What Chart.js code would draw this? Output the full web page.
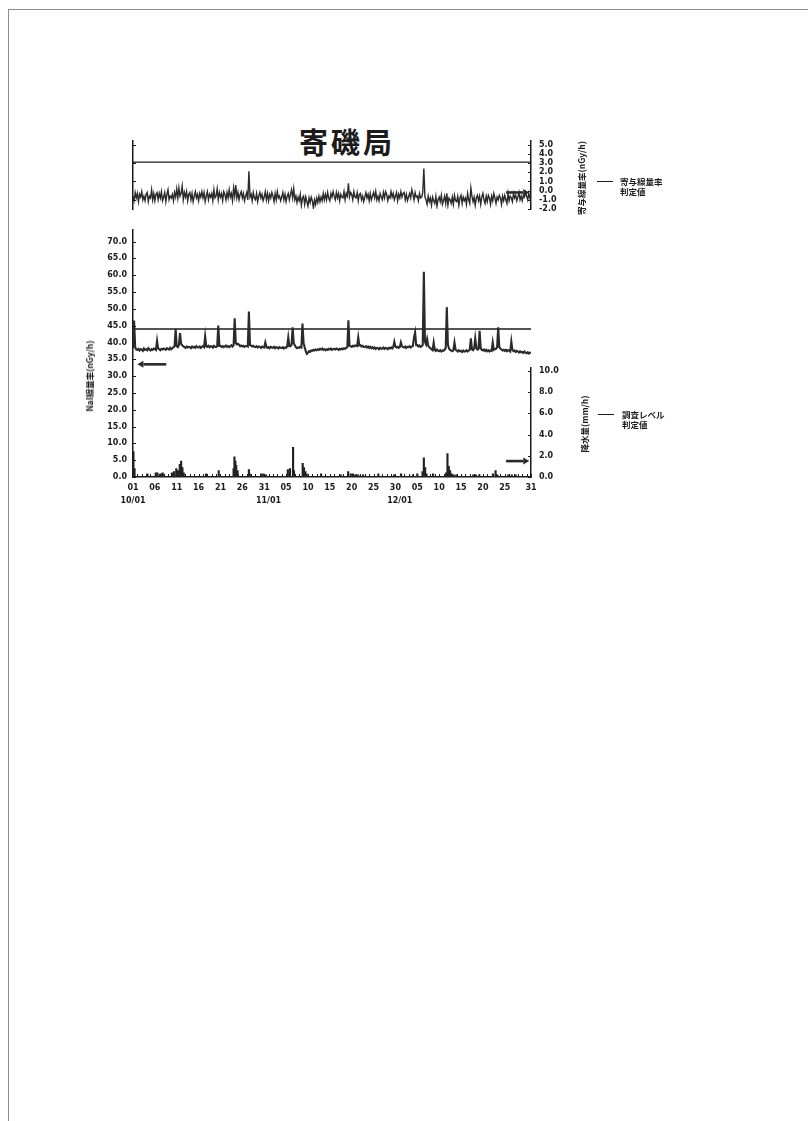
<!DOCTYPE html>
<html lang="ja">
<head>
<meta charset="utf-8">
<title>寄磯局</title>
<script src="https://cdn.jsdelivr.net/npm/chart.js@4.4.1/dist/chart.umd.min.js"></script>
<style>
  html, body { margin:0; padding:0; background:#fff; }
  #page { position:relative; width:808px; height:1121px; overflow:hidden; background:#fff; }
  #frame { position:absolute; left:8px; top:9px; right:-4px; bottom:-4px; border-left:1px solid #8c8c8c; border-top:1px solid #8c8c8c; }
  canvas { position:absolute; left:0; }
  .txt { position:absolute; color:#1b1b1b; font-family:"Noto Sans CJK JP","DejaVu Sans",sans-serif; font-weight:700; white-space:nowrap; }
  .station { left:247px; width:200px; top:126px; text-align:center; font-size:29px; line-height:31px; letter-spacing:3px; }
  .vtitle { font-size:8.5px; line-height:10px; transform:translate(-50%,-50%) rotate(-90deg); }
  .legline { position:absolute; height:0; width:16px; border-top:1.4px solid #1b1b1b; }
  .legtxt { font-size:8.5px; line-height:10px; }
</style>
</head>
<body>
<div id="page">
  <div id="frame"></div>
  <div class="txt station">寄磯局</div>

  <canvas id="contribChart" width="808" height="95" style="top:128px"></canvas>
  <canvas id="naiChart" width="808" height="300" style="top:219px"></canvas>
  <canvas id="rainChart" width="808" height="140" style="top:355px"></canvas>

  <div class="txt vtitle" style="left:581px; top:178px;">寄与線量率(nGy/h)</div>
  <div class="txt vtitle" style="left:89px; top:376px;">NaI線量率(nGy/h)</div>
  <div class="txt vtitle" style="left:584px; top:424px;">降水量(mm/h)</div>

  <div class="legline" style="left:597px; top:181px;"></div>
  <div class="txt legtxt" style="left:620px; top:176px;">寄与線量率<br>判定値</div>
  <div class="legline" style="left:598px; top:414px;"></div>
  <div class="txt legtxt" style="left:622px; top:409px;">調査レベル<br>判定値</div>
</div>

<script>
// ---- time axis: day 0 = 10/01, day 91 = 12/31 ----
const dayTickPos  = [0, 5, 10, 15, 20, 25, 30, 35, 40, 45, 50, 55, 60, 65, 70, 75, 80, 85, 91];
const dayTickText = ['01','06','11','16','21','26','31','05','10','15','20','25','30','05','10','15','20','25','31'];
const monthTickPos  = [0, 31, 61];
const monthTickText = ['10/01', '11/01', '12/01'];
const slotsPerDay = 4;   // 6-hour values

// ---- axis ticks ----
const contribTicks = [5, 4, 3, 2, 1, 0, -1, -2];
const contribLeftTicks = [5, 3, 1, -1];
const naiTicks = [0, 5, 10, 15, 20, 25, 30, 35, 40, 45, 50, 55, 60, 65, 70];
const rainTicks = [0, 2, 4, 6, 8, 10];

// ---- reference levels ----
const contribLimit = 3.1;       // 寄与線量率 判定値 (nGy/h)
const naiInvestigation = 44.0;  // 調査レベル (nGy/h)

// ---- 寄与線量率 (nGy/h), 6-hour values from 10/01 ----
const contribRate = [
  -0.6,-1.1,-0.2,-0.8, -0.3,-1.2,-0.4,-0.7, -0.1,-1.0,-0.6,-1.1, -0.4,-0.2,-1.2,-0.6,
  -0.8,0.1,-1.0,-0.3, -1.1,-0.4,-0.2,-1.0, -0.3,-0.8,-0.1,-1.1, -0.7,-0.2,-1.2,-0.4,
  0.1,-1.0,-0.6,-0.8, -0.4,-1.1,-0.2,-0.7, 0.2,-0.8,0.3,-0.6, -0.3,0.5,-1.0,-0.2,
  -0.7,-0.1,-1.1,-0.4, -0.2,-1.0,-0.3,-1.2, -0.6,-0.1,-0.8,-0.4, -1.1,-0.3,-0.7,-0.1,
  -0.8,-0.2,-1.2,-0.6, -0.1,-1.0,-0.4,-0.7, -0.3,-1.1,0.1,-0.8, -0.6,0.2,-1.0,-0.2,
  -0.7,-0.3,-1.1,-0.1, -0.4,-1.0,-0.2,-0.8, 0.1,-0.7,-0.3,-1.1, 0.3,-0.6,0.6,-0.8,
  -0.2,-1.0,-0.4,-0.1, -0.8,-0.3,-1.1,-0.6, -0.2,-1.0,2.1,-0.7, -0.4,-1.1,-0.2,-0.8,
  -1.0,-0.3,-1.2,-0.6, -0.2,-0.8,-0.4,-1.1, -0.7,-0.1,-1.0,-0.3, -1.1,-0.4,-0.8,-0.2,
  -0.6,-1.2,-0.3,-1.0, -0.1,-0.8,-0.6,-1.1, -0.7,-0.2,-1.0,-0.4, -1.2,-0.6,-0.3,-1.0,
  -0.4,0.1,-0.8,0.2, -1.0,-0.6,-1.3,-0.7, -1.1,-0.4,-1.6,-0.8, -0.6,-1.5,-0.7,-1.2,
  -1.7,-0.8,-1.3,-0.7, -1.1,-1.9,-1.0,-1.5, -0.8,-1.3,-0.6,-1.2, -0.7,-1.1,-0.3,-1.0,
  -0.4,-1.0,-0.2,-0.8, -1.1,-0.3,-0.7,-0.1, -0.6,-1.0,-0.2,-0.8, -0.3,-1.1,-0.4,-0.7,
  -0.8,-0.1,-1.0,-0.3, -0.6,0.8,-0.7,-0.2, -0.4,-1.0,-0.1,-0.7, -0.8,-0.2,-1.1,-0.4,
  -0.3,-1.0,-0.6,-1.2, -0.7,-0.2,-0.8,-0.4, -1.1,-0.3,-1.0,-0.6, -0.2,-0.8,-0.1,-1.0,
  -0.6,-1.1,-0.3,-0.7, -1.0,-0.2,-0.8,-0.1, -0.4,-1.1,-0.6,-0.8, -0.1,-0.7,-0.3,-1.0,
  -0.6,-0.2,-1.1,-0.4, -0.8,-0.1,-0.7,-0.3, -0.2,-1.0,-0.4,-1.1, -0.7,-0.3,-0.8,0.1,
  -0.4,-1.0,-0.2,-0.7, -0.6,-1.1,-0.3,-0.8, -0.7,-0.2,2.4,-0.7, -1.0,-1.5,-0.6,-1.2,
  -0.8,-1.6,-0.7,-1.1, -1.4,-0.6,-1.7,-1.0, -0.7,-1.2,-0.5,-1.5, -1.1,-0.6,-1.4,-0.3,
  -1.6,-0.8,-1.0,-1.4, -0.7,-1.5,-0.5,-1.1, -1.2,-0.6,-1.6,-0.8, -0.5,-1.4,-0.7,-1.1,
  -0.8,-1.5,-0.3,-1.0, -1.4,0.3,-0.6,-1.2, -0.7,-1.6,-0.8,-0.5, -1.1,-0.6,-1.5,-0.7,
  -0.3,-1.0,-1.4,-0.6, -1.2,-0.5,-0.8,-1.5, -0.6,-1.1,-0.3,-0.8, -1.4,-0.7,-1.0,-0.5,
  -0.8,-1.5,-0.6,-1.1, -0.5,-1.0,-1.4,-0.3, -1.1,-0.6,-0.8,-1.2, -0.3,-0.8,-0.5,-1.1,
  -0.7,-0.2,-1.0,-0.6, -1.1,-0.5,-0.7,-0.2, -0.6,-1.0,-0.3,-0.8, -0.5,-0.7,-0.2,-0.6
];

// ---- NaI線量率 (nGy/h), 6-hour values from 10/01 ----
const naiRate = [
  38.2,46.5,38.6,37.9, 37.8,38.1,37.6,38.0, 37.9,37.5,38.2,37.8, 38.0,37.7,38.3,37.9,
  37.6,38.0,37.8,38.2, 38.1,37.8,40.5,38.2, 38.0,37.7,38.1,37.9, 38.2,38.0,37.8,38.3,
  38.1,37.9,38.4,38.0, 38.3,38.6,38.9,44.0, 38.9,38.6,39.2,42.8, 39.6,39.2,38.9,38.6,
  38.4,38.8,38.5,38.7, 38.6,38.3,38.8,38.5, 38.7,38.4,38.9,38.6, 38.5,38.8,38.4,38.7,
  38.9,38.6,41.8,38.8, 38.7,39.0,38.6,38.9, 38.8,38.5,39.0,38.7, 38.6,38.9,45.0,39.0,
  39.0,38.7,38.9,38.6, 38.8,39.1,38.7,38.9, 38.6,38.9,39.2,38.8, 39.2,47.2,39.8,39.4,
  39.6,39.3,38.9,39.1, 38.8,39.0,38.7,38.9, 39.0,38.8,49.2,39.2, 39.1,38.8,39.0,38.7,
  38.6,38.9,38.5,38.8, 38.7,38.4,38.8,38.6, 38.5,40.0,38.7,38.4, 38.6,38.3,38.7,38.5,
  38.4,38.7,38.3,38.6, 38.5,38.2,38.6,38.4, 38.3,38.6,38.2,38.5, 38.4,38.8,41.5,38.9,
  38.9,39.3,44.5,39.8, 39.2,38.6,38.3,38.5, 38.4,38.7,38.5,45.6, 39.8,38.6,37.4,36.6,
  36.9,37.4,37.2,37.6, 37.5,37.8,37.6,37.9, 37.7,38.0,37.8,38.1, 37.9,38.2,37.8,38.0,
  37.7,38.0,37.8,38.1, 37.9,38.2,37.8,38.0, 38.1,37.9,38.2,38.0, 37.8,38.1,37.9,38.2,
  38.0,38.3,38.1,38.4, 38.6,46.6,39.0,38.9, 38.7,39.0,38.8,39.1, 39.0,38.9,41.5,39.1,
  39.2,38.8,39.0,38.7, 38.6,38.9,38.5,38.8, 38.4,38.7,38.3,38.6, 38.2,38.5,38.1,38.4,
  38.3,38.0,38.4,38.1, 38.2,38.5,38.1,38.4, 38.3,38.0,38.4,38.2, 38.5,38.2,38.6,40.2,
  38.8,38.5,38.7,38.4, 38.6,40.0,38.9,38.6, 38.5,38.8,38.4,38.7, 38.6,38.9,38.5,38.8,
  39.0,41.5,43.0,39.2, 39.2,38.8,39.1,38.7, 38.9,39.3,61.0,40.2, 39.4,41.0,39.0,38.6,
  38.3,38.0,37.7,40.0, 37.8,37.5,37.9,37.6, 37.4,37.7,37.3,37.6, 37.5,37.8,38.4,50.5,
  39.4,38.2,37.8,37.6, 37.4,37.7,40.0,37.9, 37.6,37.3,37.7,37.4, 37.5,37.2,37.6,37.3,
  37.4,37.7,37.3,37.6, 37.8,41.2,38.0,37.7, 38.2,41.2,38.4,37.9, 38.1,43.5,38.3,37.8,
  37.6,37.9,37.5,37.8, 37.4,37.7,37.3,37.6, 37.5,40.0,37.8,38.0, 38.1,38.6,44.5,38.6,
  38.2,37.9,37.6,37.8, 37.5,37.8,37.4,37.7, 37.6,37.3,40.3,37.8, 37.4,37.6,37.2,37.5,
  37.3,37.0,37.4,37.1, 37.2,36.9,37.3,37.0, 36.8,37.1,36.7,37.0, 36.9,36.7,36.8,36.6
];

// ---- 降水量 (mm/h): time in days from 10/01, amount ----
const rainDay = [
  0.1, 0.35, 3.3, 5.2, 5.6, 6.4, 6.8, 8.9, 9.4, 9.9,
  10.3, 10.7, 11.0, 11.3, 11.6, 16.7, 19.6, 23.0, 23.2, 23.4,
  23.6, 23.9, 26.5, 26.7, 29.3, 29.8, 30.4, 35.4, 35.9, 36.6,
  36.8, 38.8, 39.1, 39.4, 39.7, 43.0, 47.5, 49.2, 49.8, 50.3,
  50.8, 51.5, 52.6, 56.1, 59.7, 61.3, 64.0, 65.0, 66.2, 66.5,
  66.8, 67.1, 68.6, 71.6, 71.9, 72.2, 72.5, 72.8, 73.3, 73.9,
  77.8, 78.4, 79.2, 82.3, 82.9, 83.3, 85.8, 86.6, 87.5
];
const rainMm = [
  2.4, 0.8, 0.3, 0.4, 0.4, 0.3, 0.4, 0.4, 0.5, 0.8,
  0.6, 1.2, 1.5, 0.9, 0.4, 0.3, 0.6, 0.8, 1.9, 1.5,
  1.1, 0.6, 0.7, 0.3, 0.3, 0.3, 0.2, 0.7, 0.8, 2.8,
  0.6, 1.3, 0.9, 0.5, 0.3, 0.3, 0.2, 0.5, 0.3, 0.3,
  0.2, 0.2, 0.2, 0.3, 0.2, 0.3, 0.2, 0.3, 0.5, 1.8,
  0.9, 0.3, 0.3, 0.4, 2.2, 1.0, 0.6, 0.3, 0.2, 0.2,
  0.2, 0.2, 0.2, 0.3, 0.6, 0.2, 0.2, 0.2, 0.2
];

// ---------------------------------------------------------------
const INK = '#1b1b1b';
const tickFont = { family: "'DejaVu Sans', sans-serif", size: 8, weight: 'bold' };
const xMin = 0, xMax = 91;

const toSeries = arr => arr.map((v, i) => ({ x: i / slotsPerDay, y: v }));
const levelLine = v => [{ x: xMin, y: v }, { x: xMax, y: v }];

// small tick marks drawn on the inner side of the axis lines
function innerTicks(axes) {
  return {
    id: 'innerTicks',
    afterDraw(chart) {
      const ctx = chart.ctx;
      ctx.save();
      ctx.strokeStyle = INK;
      ctx.lineWidth = 1;
      axes.forEach(a => {
        const s = chart.scales[a.id];
        if (!s) return;
        const values = a.values ? a.values : s.ticks.map(t => t.value);
        values.forEach(v => {
          const p = Math.round(s.getPixelForValue(v)) + 0.5;
          ctx.beginPath();
          if (s.isHorizontal()) {
            ctx.moveTo(p, s.top); ctx.lineTo(p, s.top - a.len);
          } else if (s.position === 'left') {
            ctx.moveTo(s.right, p); ctx.lineTo(s.right + a.len, p);
          } else {
            ctx.moveTo(s.left, p); ctx.lineTo(s.left - a.len, p);
          }
          ctx.stroke();
        });
      });
      ctx.restore();
    }
  };
}

// arrows showing which axis a series is read against
function axisArrows(yAxis, items) {
  return {
    id: 'axisArrows',
    afterDatasetsDraw(chart) {
      const xs = chart.scales.x, ys = chart.scales[yAxis];
      const ctx = chart.ctx;
      ctx.save();
      ctx.strokeStyle = '#2a2a2a';
      ctx.fillStyle = '#2a2a2a';
      items.forEach(a => {
        const x0 = xs.getPixelForValue(a.from), x1 = xs.getPixelForValue(a.to);
        const y = ys.getPixelForValue(a.y);
        const dir = Math.sign(x1 - x0), head = 6;
        ctx.lineWidth = 2.6;
        ctx.beginPath();
        ctx.moveTo(x0, y); ctx.lineTo(x1 - dir * head, y);
        ctx.stroke();
        ctx.beginPath();
        ctx.moveTo(x1, y);
        ctx.lineTo(x1 - dir * head, y - 3.5);
        ctx.lineTo(x1 - dir * head, y + 3.5);
        ctx.closePath();
        ctx.fill();
      });
      ctx.restore();
    }
  };
}

const hiddenX = { type: 'linear', min: xMin, max: xMax, display: false, offset: false };
const yTickLabel = v => Number(v).toFixed(1);
const noGrid = { display: false, drawTicks: false };

// ---- 寄与線量率 panel ----
new Chart(document.getElementById('contribChart'), {
  type: 'line',
  data: {
    datasets: [
      { data: toSeries(contribRate), yAxisID: 'yR', borderColor: '#2a2a2a', borderWidth: 1.4, pointRadius: 0, tension: 0 },
      { data: levelLine(contribLimit), yAxisID: 'yR', borderColor: INK, borderWidth: 1.3, pointRadius: 0 }
    ]
  },
  options: {
    responsive: false, animation: false, events: [],
    layout: { padding: { left: 131, right: 237, top: 13, bottom: 14 } },
    plugins: { legend: { display: false }, tooltip: { enabled: false } },
    scales: {
      x: hiddenX,
      yL: {
        position: 'left', min: -2, max: 5.4,
        ticks: { display: false }, grid: noGrid,
        border: { color: INK, width: 1.5 },
        afterFit(s) { s.width = 2; }
      },
      yR: {
        position: 'right', min: -2, max: 5.4,
        afterBuildTicks(s) { s.ticks = contribTicks.map(v => ({ value: v })); },
        ticks: { callback: yTickLabel, color: INK, font: tickFont, padding: 8, autoSkip: false },
        grid: noGrid,
        border: { color: INK, width: 1.5 },
        afterFit(s) { s.width = 40; }
      }
    }
  },
  plugins: [
    innerTicks([{ id: 'yR', len: 3 }, { id: 'yL', len: 3, values: contribLeftTicks }]),
    axisArrows('yR', [{ from: 85.3, to: 90.6, y: -0.2 }])
  ]
});

// ---- NaI線量率 panel (left axis) with the shared date axis ----
new Chart(document.getElementById('naiChart'), {
  type: 'line',
  data: {
    datasets: [
      { data: toSeries(naiRate), yAxisID: 'yL', borderColor: '#2b2b2b', borderWidth: 2.1, pointRadius: 0, tension: 0 },
      { data: levelLine(naiInvestigation), yAxisID: 'yL', borderColor: INK, borderWidth: 1.3, pointRadius: 0 }
    ]
  },
  options: {
    responsive: false, animation: false, events: [],
    layout: { padding: { left: 83, right: 277, top: 10, bottom: 10 } },
    plugins: { legend: { display: false }, tooltip: { enabled: false } },
    scales: {
      x: {
        type: 'linear', min: xMin, max: xMax, position: 'bottom', offset: false,
        afterBuildTicks(s) {
          const t = [];
          for (let d = xMin; d <= xMax; d++) t.push({ value: d });
          s.ticks = t;
        },
        ticks: {
          autoSkip: false, maxRotation: 0, minRotation: 0, padding: 4, color: INK,
          font: { family: "'DejaVu Sans', sans-serif", size: 8, weight: 'bold', lineHeight: 1.7 },
          callback(v) {
            const i = dayTickPos.indexOf(v), m = monthTickPos.indexOf(v);
            if (i < 0 && m < 0) return '';
            return [i >= 0 ? dayTickText[i] : '', m >= 0 ? monthTickText[m] : ''];
          }
        },
        grid: noGrid,
        border: { color: INK, width: 1.5 },
        afterFit(s) { s.height = 32; }
      },
      yL: {
        position: 'left', min: 0, max: 73.5,
        afterBuildTicks(s) { s.ticks = naiTicks.map(v => ({ value: v })); },
        ticks: { callback: yTickLabel, color: INK, font: tickFont, padding: 6, autoSkip: false },
        grid: noGrid,
        border: { color: INK, width: 1.5 },
        afterFit(s) { s.width = 50; }
      }
    }
  },
  plugins: [
    innerTicks([{ id: 'yL', len: 3 }, { id: 'x', len: 3 }]),
    axisArrows('yL', [{ from: 7.6, to: 1.0, y: 33.5 }])
  ]
});

// ---- 降水量 panel (right axis) ----
new Chart(document.getElementById('rainChart'), {
  type: 'bar',
  data: {
    datasets: [
      { data: rainDay.map((d, i) => ({ x: d, y: rainMm[i] })), yAxisID: 'yR',
        backgroundColor: '#222', borderWidth: 0, barThickness: 1.5 }
    ]
  },
  options: {
    responsive: false, animation: false, events: [],
    layout: { padding: { left: 133, right: 237, top: 12, bottom: 18 } },
    plugins: { legend: { display: false }, tooltip: { enabled: false } },
    scales: {
      x: hiddenX,
      yR: {
        position: 'right', min: 0, max: 10.3,
        afterBuildTicks(s) { s.ticks = rainTicks.map(v => ({ value: v })); },
        ticks: { callback: yTickLabel, color: INK, font: tickFont, padding: 8, autoSkip: false },
        grid: noGrid,
        border: { color: INK, width: 1.5 },
        afterFit(s) { s.width = 40; }
      }
    }
  },
  plugins: [
    innerTicks([{ id: 'yR', len: 3 }]),
    axisArrows('yR', [{ from: 85.3, to: 90.6, y: 1.5 }])
  ]
});
</script>
</body>
</html>
